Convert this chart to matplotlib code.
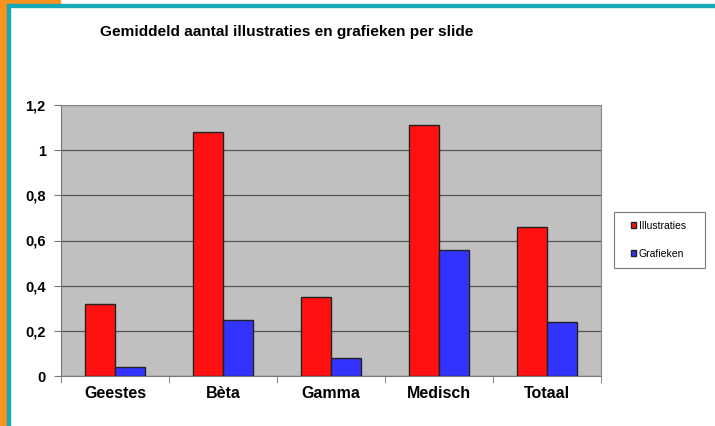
import matplotlib
matplotlib.use("Agg")
from matplotlib import pyplot as plt
from matplotlib.patches import Rectangle
import numpy as np

# data
categories = ['Geestes', 'Bèta', 'Gamma', 'Medisch', 'Totaal']
illustraties = [0.32, 1.08, 0.35, 1.11, 0.66]
grafieken = [0.04, 0.25, 0.08, 0.56, 0.24]
yticks = [0, 0.2, 0.4, 0.6, 0.8, 1.0, 1.2]
ytick_labels = ['0', '0,2', '0,4', '0,6', '0,8', '1', '1,2']

W, H = 715, 426
fig = plt.figure(figsize=(W / 100, H / 100), dpi=100)
plt.rcParams['font.family'] = ['Liberation Sans', 'DejaVu Sans']

# slide frame (orange strip + teal line)
fig.patches.append(Rectangle((0, 0), 7 / W, 1, transform=fig.transFigure, color='#F7931E', zorder=0))
fig.patches.append(Rectangle((0, 1 - 4 / H), 60 / W, 4 / H, transform=fig.transFigure, color='#F7931E', zorder=0))
fig.patches.append(Rectangle((7 / W, 0), 3 / W, 1 - 4 / H, transform=fig.transFigure, color='#17A9B8', zorder=1))
fig.patches.append(Rectangle((7 / W, 1 - 7 / H), 1 - 7 / W, 3 / H, transform=fig.transFigure, color='#17A9B8', zorder=1))

ax = fig.add_axes([61 / W, 1 - 376 / H, 540 / W, 271 / H])
ax.set_facecolor('#C0C0C0')

x = np.arange(len(categories))
w = 0.28
ax.bar(x - w / 2, illustraties, w, color='#FF1111', edgecolor='#222222', linewidth=1.0, label='Illustraties', zorder=3)
ax.bar(x + w / 2, grafieken, w, color='#3333FF', edgecolor='#222222', linewidth=1.0, label='Grafieken', zorder=3)

ax.set_xlim(-0.5, len(categories) - 0.5)
ax.set_ylim(0, 1.2)
ax.set_yticks(yticks)
ax.set_yticklabels(ytick_labels, fontsize=10.5, fontweight='bold')
ax.yaxis.grid(True, color='#555555', linewidth=0.9, zorder=1)

ax.set_xticks(x)
ax.set_xticklabels(categories, fontsize=11.5, fontweight='bold')
ax.tick_params(axis='x', length=0, pad=7)
ax.set_xticks(np.arange(len(categories) + 1) - 0.5, minor=True)
ax.tick_params(axis='x', which='minor', length=5, color='#777777')
ax.tick_params(axis='y', length=5, color='#777777', pad=6)

for s in ['top', 'right']:
    ax.spines[s].set_color('#888888')
for s in ['left', 'bottom']:
    ax.spines[s].set_color('#777777')

fig.text(100 / W, 1 - 32 / H, 'Gemiddeld aantal illustraties en grafieken per slide',
         fontsize=11.1, fontweight='bold', va='center', ha='left')

# legend box drawn separately (behind the axes layer), legend entries placed inside it
fig.patches.append(Rectangle((614 / W, 1 - 268 / H), 91 / W, 56 / H, transform=fig.transFigure,
                             facecolor='white', edgecolor='#777777', linewidth=0.8, zorder=-1))
leg = ax.legend(loc='center left', bbox_to_anchor=(631 / W, 1 - 240 / H), bbox_transform=fig.transFigure,
                fontsize=7.5, frameon=False,
                handlelength=0.5, handleheight=0.5, handletextpad=0.25, labelspacing=1.7,
                borderpad=0, borderaxespad=0)

fig.savefig('out.png', dpi=100)
